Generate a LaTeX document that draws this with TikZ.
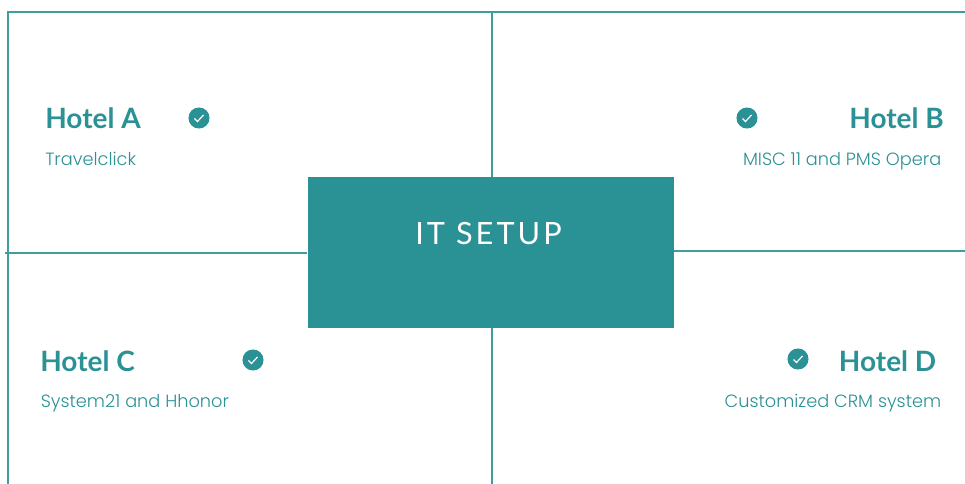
\documentclass[tikz,border=0pt]{standalone}
\usepackage{fontspec}
\setmainfont{Lato}
\newfontfamily\subfont[UprightFont=* Light]{Poppins}
\newfontfamily\setupfont[LetterSpace=10]{Lato}
\usepackage{xcolor}
\usetikzlibrary{calc}
\definecolor{teal1}{HTML}{2A9194}
\tikzset{
	frameline/.style={draw=teal1!90!white, line width=1.5pt},
	hotel/.style={text=teal1, font=\fontsize{21}{24}\selectfont\bfseries, inner sep=0pt},
	system/.style={text=teal1, font=\subfont\fontsize{13.3}{16}\selectfont, inner sep=0pt},
	tick/.style={circle, fill=teal1, minimum size=15.8pt, inner sep=0pt},
}
\begin{document}
\begin{tikzpicture}[x=.75pt,y=-.75pt]
			\useasboundingbox (0,0) rectangle (965,484);
			\node[fill=teal1, minimum width=274.5pt, minimum height=113.25pt, inner sep=0pt] (setup) at (490.5,252.5) {};
			\node[anchor=base, text=white, inner sep=0pt, font=\setupfont\fontsize{23}{28}\selectfont] (setuplabel) at (488.5,245) {IT SETUP};
			\coordinate (cornerTL) at (7.5,12);
			\coordinate (cornerTR) at (965,12);
			\coordinate (cornerBL) at (7.5,484);
			\coordinate (midT) at (492.3,12);
			\coordinate (midB) at (492.3,484);
			\coordinate (midL) at (5,253);
			\coordinate (midR) at (965,251);
			\draw[frameline] (cornerBL) -- (cornerTL) -- (cornerTR);
			\draw[frameline] (midT) -- (midT |- setup.north);
			\draw[frameline] (midT |- setup.south) -- (midB);
			\draw[frameline] (midL) -- (midL -| setup.west);
			\draw[frameline] (midR -| setup.east) -- (midR);
			\node[hotel, anchor=base west] (hotelA) at (45,129) {Hotel A};
			\node[hotel, anchor=base east] (hotelB) at (944,129) {Hotel B};
			\node[hotel, anchor=base west] (hotelC) at (40,371.5) {Hotel C};
			\node[hotel, anchor=base east] (hotelD) at (936.5,371.5) {Hotel D};
			\node[system, anchor=base west] (sysA) at (45,166) {Travelclick};
			\node[system, anchor=base east] (sysB) at (941.5,166) {MISC 11 and PMS Opera};
			\node[system, anchor=base west] (sysC) at (40.5,408) {System21 and Hhonor};
			\node[system, anchor=base east] (sysD) at (941.5,408) {Customized CRM system};
			\foreach \n/\x/\y in {A/199/118,B/747/118,C/253/360,D/798/359} {
				\node[tick] (tick\n) at (\x,\y) {};
				\draw[white, line width=.9pt] ($(tick\n)+(-4.5,0.5)$) -- ($(tick\n)+(-1.5,3.5)$) -- ($(tick\n)+(4.5,-3)$);
			};
		\end{tikzpicture}
\end{document}
